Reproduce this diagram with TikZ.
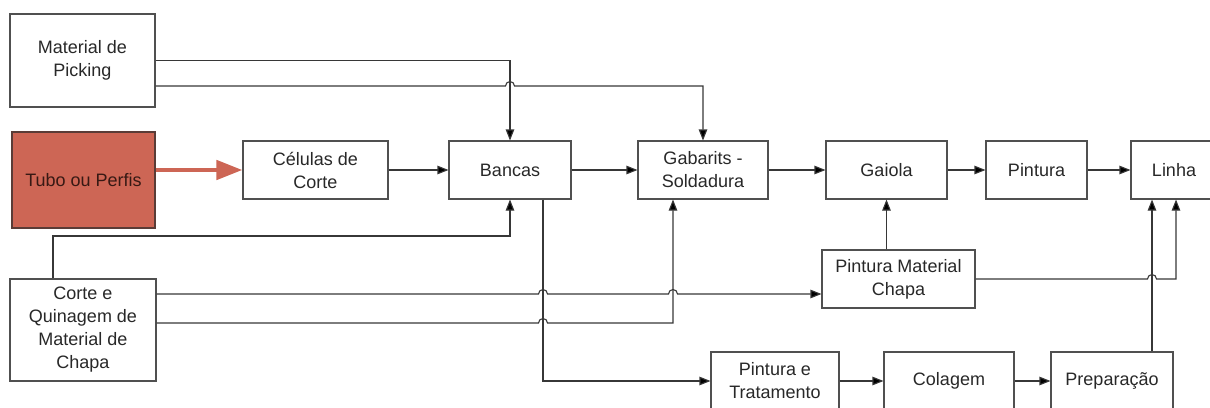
\documentclass[tikz,border=0pt]{standalone}
\usepackage{fontspec}
\setmainfont{Liberation Sans}
\usepackage{tikz}
\usetikzlibrary{arrows.meta,positioning}

\definecolor{boxline}{RGB}{80,80,80}
\definecolor{wire}{RGB}{55,55,55}
\definecolor{txt}{RGB}{40,40,40}
\definecolor{tuboRed}{RGB}{205,102,85}
\definecolor{tuboLine}{RGB}{90,60,55}

\begin{document}
\begin{tikzpicture}[x=1pt,y=-1pt,
    box/.style={draw=boxline,line width=1.1pt,fill=white,text=txt,align=center,
        inner sep=0pt,minimum height=58pt,font=\fontsize{18}{23}\selectfont},
    arr/.style={draw=wire,line width=1.1pt,-{Triangle[length=11pt,width=8.5pt,fill=black]}},
    redarr/.style={draw=tuboRed,line width=4.5pt,-{Triangle[length=26pt,width=19pt]}}]
    \useasboundingbox (0,0) rectangle (1210,407);

    % left column
    \node[box,minimum width=145pt,minimum height=93pt] (picking) at (82.5,60.5) {Material de\\Picking};
    \node[box,minimum width=143pt,minimum height=96pt,fill=tuboRed,draw=tuboLine,text={rgb,255:red,55;green,25;blue,20}] (tubo) at (83.5,180) {Tubo ou Perfis};
    \node[box,minimum width=146pt,minimum height=102pt] (corte) at (83,330) {Corte e\\Quinagem de\\Material de\\Chapa};

    % main row
    \node[box,minimum width=145pt] (celulas) at (315.5,170) {Células de\\Corte};
    \node[box,minimum width=122pt] (bancas) at (510,170) {Bancas};
    \node[box,minimum width=130pt] (gabarits) at (703,170) {Gabarits -\\Soldadura};
    \node[box,minimum width=121pt] (gaiola) at (886.5,170) {Gaiola};
    \node[box,minimum width=101pt] (pintura) at (1036.5,170) {Pintura};
    \node[box,minimum width=86pt] (linha) at (1174,170) {Linha};

    % lower rows
    \node[box,minimum width=153pt] (pmc) at (898.5,279) {Pintura Material\\Chapa};
    \node[box,minimum width=128pt] (ptrat) at (775,381) {Pintura e\\Tratamento};
    \node[box,minimum width=130pt] (colagem) at (949,381) {Colagem};
    \node[box,minimum width=122pt] (prep) at (1112,381) {Preparação};

    % main flow
    \draw[redarr] (tubo.east |- celulas.west) -- (celulas.west);
    \draw[arr] (celulas) -- (bancas);
    \draw[arr] (bancas) -- (gabarits);
    \draw[arr] (gabarits) -- (gaiola);
    \draw[arr] (gaiola) -- (pintura);
    \draw[arr] (pintura) -- (linha);
    \draw[arr] (ptrat) -- (colagem);
    \draw[arr] (colagem) -- (prep);

    % picking
    \draw[arr] (picking.east) -| (bancas.north);
    \draw[arr] (picking.east |- 0,86) -- (505.5,86) arc (180:360:4.5) -| (gabarits.north);

    % corte e quinagem
    \draw[arr] ([xshift=-30pt]corte.north) |- (bancas.south |- 0,236) -- (bancas.south);
    \draw[arr] (corte.east |- 0,294) -- (538.5,294) arc (180:360:4.5) -- (668.5,294) arc (180:360:4.5) -- (pmc.west |- 0,294);
    \draw[arr] (corte.east |- 0,323) -- (538.5,323) arc (180:360:4.5) -| ([xshift=-30pt]gabarits.south);

    % bancas para pintura e tratamento
    \draw[arr] ([xshift=33pt]bancas.south) |- (ptrat.west);

    % para gaiola e linha
    \draw[arr] (pmc.north -| gaiola.south) -- (gaiola.south);
    \draw[arr] (pmc.east) -- (1147.5,279) arc (180:360:4.5) -| ([xshift=2pt]linha.south);
    \draw[arr] ([xshift=40pt]prep.north) -- ([xshift=40pt]prep.north |- linha.south);
\end{tikzpicture}
\end{document}
